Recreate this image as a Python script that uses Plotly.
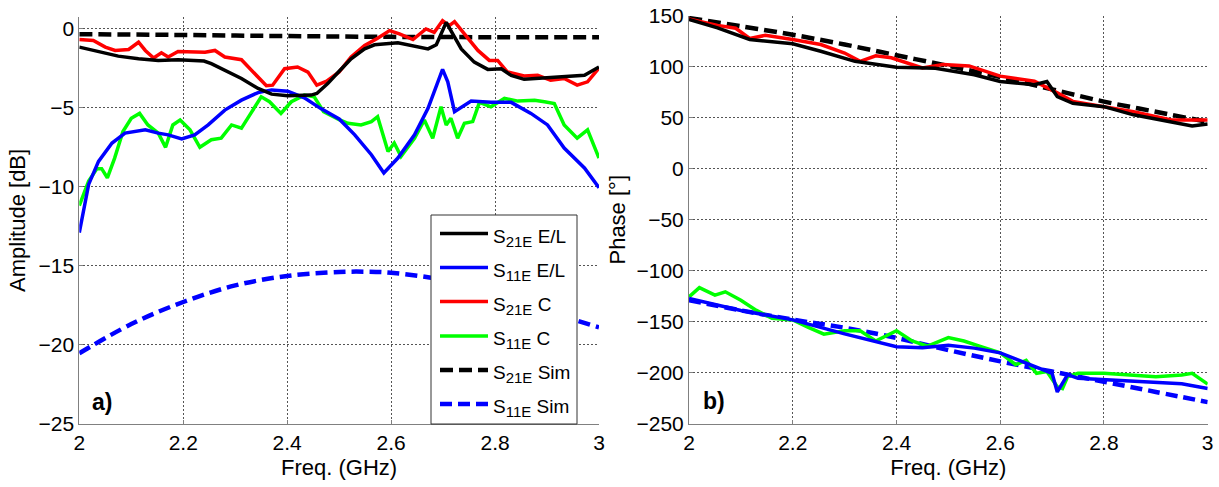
import plotly.graph_objects as go

# ---------------- data ----------------
# Left panel: amplitude [dB]
f_s21_el = [2.0, 2.035, 2.075, 2.114, 2.152, 2.19, 2.24, 2.254, 2.28, 2.312, 2.344, 2.37, 2.401,
            2.446, 2.457, 2.478, 2.5, 2.523, 2.549, 2.568, 2.613, 2.645, 2.671, 2.687, 2.699,
            2.706, 2.715, 2.735, 2.76, 2.786, 2.812, 2.831, 2.856, 2.882, 2.914, 2.946, 2.972, 3.0]
a_s21_el = [-1.15, -1.43, -1.72, -1.89, -1.99, -1.95, -2.03, -2.2, -2.62, -3.14, -3.77, -4.13, -4.23,
            -4.19, -4.09, -3.46, -2.68, -1.89, -1.26, -1.0, -0.88, -1.09, -1.26, -1.0, -0.1,
            0.42, -0.1, -1.26, -2.1, -2.56, -2.52, -2.94, -3.19, -3.14, -3.1, -3.04, -2.94, -2.41]

f_s21_c = [2.0, 2.027, 2.05, 2.069, 2.095, 2.114, 2.127, 2.143, 2.158, 2.171, 2.19, 2.242, 2.261,
           2.28, 2.312, 2.337, 2.36, 2.372, 2.395, 2.42, 2.44, 2.457, 2.476, 2.5, 2.523, 2.549,
           2.574, 2.597, 2.616, 2.642, 2.667, 2.683, 2.699, 2.712, 2.722, 2.741, 2.767, 2.789,
           2.805, 2.824, 2.856, 2.882, 2.907, 2.933, 2.958, 2.978, 3.0]
a_s21_c = [-0.67, -0.73, -1.15, -1.36, -1.3, -0.84, -1.36, -1.84, -1.51, -1.78, -1.43, -1.47, -1.36,
           -1.78, -1.95, -2.83, -3.6, -3.56, -2.52, -2.41, -2.73, -3.56, -3.31, -2.72, -1.78, -1.05,
           -0.59, -0.1, -0.31, -0.67, 0.0, -0.21, 0.52, 0.21, 0.46, -0.31, -1.36, -1.99,
           -1.99, -2.73, -2.98, -2.94, -3.25, -3.14, -3.56, -3.35, -2.47]

f_s11_el = [2.0, 2.018, 2.037, 2.063, 2.088, 2.127, 2.152, 2.171, 2.197, 2.222, 2.248, 2.28, 2.312,
            2.344, 2.37, 2.401, 2.433, 2.464, 2.5, 2.53, 2.562, 2.586, 2.613, 2.645, 2.671, 2.699,
            2.709, 2.722, 2.754, 2.792, 2.831, 2.869, 2.901, 2.933, 2.972, 3.0]
a_s11_el = [-12.9, -9.85, -8.39, -7.23, -6.6, -6.39, -6.6, -6.71, -6.96, -6.71, -6.08, -5.14, -4.51,
            -4.03, -3.86, -3.94, -4.36, -5.03, -5.7, -6.71, -7.97, -9.12, -8.18, -6.71, -5.03, -2.56,
            -3.35, -5.24, -4.57, -4.65, -4.65, -5.35, -6.08, -7.55, -8.81, -10.06]

f_s11_c = [2.0, 2.018, 2.034, 2.043, 2.054, 2.068, 2.084, 2.1, 2.116, 2.132, 2.152, 2.166, 2.18,
           2.194, 2.213, 2.232, 2.254, 2.273, 2.293, 2.312, 2.33, 2.35, 2.366, 2.388, 2.408, 2.433,
           2.452, 2.47, 2.5, 2.517, 2.542, 2.562, 2.574, 2.594, 2.606, 2.619, 2.645, 2.664, 2.68,
           2.696, 2.706, 2.715, 2.728, 2.741, 2.757, 2.77, 2.792, 2.818, 2.844, 2.876, 2.895,
           2.914, 2.933, 2.958, 2.978, 3.0]
a_s11_c = [-11.2, -9.64, -8.85, -8.85, -9.43, -8.18, -6.5, -5.66, -5.35, -6.08, -6.6, -7.5, -6.08,
           -5.77, -6.39, -7.5, -7.02, -6.92, -6.08, -6.29, -5.35, -4.3, -4.61, -5.35, -4.61, -4.19,
           -4.3, -5.24, -5.75, -5.98, -6.08, -5.87, -5.56, -7.76, -7.23, -8.07, -6.92, -5.77, -6.92,
           -4.93, -6.08, -5.66, -6.92, -5.98, -5.87, -4.65, -4.93, -4.4, -4.57, -4.51, -4.61,
           -4.72, -6.08, -6.92, -6.39, -8.18]

f_s21_sim = [2.0, 2.2, 2.4, 2.6, 2.8, 3.0]
a_s21_sim = [-0.33, -0.38, -0.45, -0.5, -0.52, -0.52]

f_s11_sim = [2.0, 2.1, 2.2, 2.3, 2.4, 2.5, 2.55, 2.6, 2.7, 2.8, 2.9, 3.0]
a_s11_sim = [-20.55, -18.7, -17.3, -16.25, -15.65, -15.4, -15.38, -15.45, -15.9, -16.8, -17.9, -18.9]

# Right panel: phase [deg]
pf_s21_el = [2.0, 2.055, 2.117, 2.2, 2.254, 2.32, 2.4, 2.475, 2.55, 2.6, 2.666, 2.69, 2.71, 2.74,
             2.8, 2.857, 2.93, 2.97, 3.0]
p_s21_el = [146.7, 138.4, 127, 122.7, 115.4, 105.5, 99.8, 98.6, 92.3, 85.7, 82.6, 85.7, 70.9, 64.3,
            61, 53, 46, 42, 44]

pf_s21_c = [2.0, 2.055, 2.09, 2.117, 2.147, 2.2, 2.254, 2.30, 2.33, 2.36, 2.39, 2.42, 2.45, 2.49,
            2.54, 2.6, 2.666, 2.71, 2.74, 2.8, 2.857, 2.93, 3.0]
p_s21_c = [147, 140.8, 138, 128, 131, 127, 122, 113.7, 105.5, 111, 109, 104, 99, 102.5,
           101, 91, 86, 74.5, 66.2, 61, 56, 48, 48]

pf_s21_sim = [2.0, 2.1, 2.2, 2.3, 2.4, 2.5, 2.6, 2.7, 2.8, 2.9, 3.0]
p_s21_sim = [148, 140, 131.6, 122, 111.5, 101, 90, 78, 66, 56, 46]

pf_s11_el = [2.0, 2.1, 2.2, 2.3, 2.4, 2.45, 2.5, 2.55, 2.6, 2.65, 2.7, 2.71, 2.73, 2.75, 2.8, 2.9,
             2.95, 3.0]
p_s11_el = [-127.3, -139, -148.3, -162, -174.7, -175.7, -173.3, -176, -180.7, -190.7, -200.7, -219,
            -202, -205.7, -207, -210, -211, -215.7]

pf_s11_c = [2.0, 2.02, 2.05, 2.07, 2.1, 2.13, 2.16, 2.2, 2.23, 2.26, 2.3, 2.33, 2.36, 2.4, 2.43,
            2.46, 2.5, 2.53, 2.56, 2.6, 2.63, 2.65, 2.67, 2.69, 2.71, 2.72, 2.73, 2.75, 2.8, 2.85,
            2.9, 2.95, 2.97, 3.0]
p_s11_c = [-125.7, -116.7, -124, -120.7, -129, -139, -146.7, -148.3, -155.7, -162.3, -159, -159,
           -169, -159, -169, -174, -165.7, -169, -174, -180.7, -192.3, -188, -200.7, -199, -214,
           -215.7, -204, -200.7, -200.7, -202.3, -204, -202.3, -200.7, -211.3]

pf_s11_sim = [2.0, 2.1, 2.2, 2.3, 2.4, 2.5, 2.6, 2.7, 2.8, 2.9, 3.0]
p_s11_sim = [-129, -139, -148, -156, -166, -178, -189, -199, -209, -219, -229]

amp_ticks = [0, -5, -10, -15, -20, -25]
phase_ticks = [150, 100, 50, 0, -50, -100, -150, -200, -250]
freq_ticks = [2, 2.2, 2.4, 2.6, 2.8, 3]
freq_labels = ["2", "2.2", "2.4", "2.6", "2.8", "3"]

SUB = '<sub><span style="font-size:15px">{}</span></sub>'
names = ["S" + SUB.format("21E") + " E/L", "S" + SUB.format("11E") + " E/L",
         "S" + SUB.format("21E") + " C", "S" + SUB.format("11E") + " C",
         "S" + SUB.format("21E") + " Sim", "S" + SUB.format("11E") + " Sim"]

# ---------------- figure ----------------
FONT = "Liberation Sans, Arial, sans-serif"
BLACK, BLUE, RED, GREEN = "#000000", "#0000ff", "#ff0000", "#00ff00"
SOLID_W, DASH_W = 3.5, 4.5
DASH_BLK = "13px,6px"
DASH_BLU = "12px,6px"

W, H = 1219, 487
def px(x):
    return x / W
def py(y):
    return (H - y) / H

fig = go.Figure()

def add(x, y, color, dash, width, name, axes, shape="linear"):
    fig.add_trace(go.Scatter(x=x, y=y, mode="lines", name=name, showlegend=False,
                             line=dict(color=color, width=width, dash=dash, shape=shape),
                             xaxis=axes[0], yaxis=axes[1]))

L = ("x", "y")
R = ("x2", "y2")
# left panel
add(f_s11_sim, a_s11_sim, BLUE, DASH_BLU, DASH_W, names[5], L, "spline")
add(f_s21_sim, a_s21_sim, BLACK, DASH_BLK, DASH_W, names[4], L, "spline")
add(f_s11_c, a_s11_c, GREEN, "solid", SOLID_W, names[3], L)
add(f_s11_el, a_s11_el, BLUE, "solid", SOLID_W, names[1], L)
add(f_s21_c, a_s21_c, RED, "solid", SOLID_W, names[2], L)
add(f_s21_el, a_s21_el, BLACK, "solid", SOLID_W, names[0], L)
# right panel
add(pf_s11_sim, p_s11_sim, BLUE, DASH_BLU, DASH_W, names[5], R, "spline")
add(pf_s21_sim, p_s21_sim, BLACK, DASH_BLK, DASH_W, names[4], R, "spline")
add(pf_s11_c, p_s11_c, GREEN, "solid", SOLID_W, names[3], R)
add(pf_s11_el, p_s11_el, BLUE, "solid", SOLID_W, names[1], R)
add(pf_s21_c, p_s21_c, RED, "solid", SOLID_W, names[2], R)
add(pf_s21_el, p_s21_el, BLACK, "solid", SOLID_W, names[0], R)

grid = dict(showgrid=True, gridcolor="#555555", griddash="2px,2px", gridwidth=1,
            showline=True, linecolor="#808080", linewidth=1, zeroline=False,
            ticks="inside", ticklen=4, tickcolor="#808080", automargin=False,
            tickfont=dict(family=FONT, size=21, color="#000"))

# ----- legend box drawn in paper coordinates (matches the reference legend geometry)
leg_style = [(BLACK, "solid", SOLID_W), (BLUE, "solid", SOLID_W), (RED, "solid", SOLID_W),
             (GREEN, "solid", SOLID_W), (BLACK, DASH_BLK, DASH_W), (BLUE, DASH_BLU, DASH_W)]
leg_rows = [233.5, 267.5, 301.5, 336, 370, 404]
shapes = [dict(type="rect", xref="paper", yref="paper", x0=px(431), x1=px(577),
               y0=py(424), y1=py(215), line=dict(color="#333", width=1), fillcolor="white",
               layer="above")]
annotations = []
for nm, (c, d, w), ry in zip(names, leg_style, leg_rows):
    shapes.append(dict(type="line", xref="paper", yref="paper", x0=px(440), x1=px(488),
                       y0=py(ry), y1=py(ry), line=dict(color=c, width=w, dash=d), layer="above"))
    annotations.append(dict(text=nm, x=px(491), y=py(ry + 4), xref="paper", yref="paper",
                            xanchor="left", yanchor="middle", showarrow=False,
                            font=dict(family=FONT, size=19, color="#000")))

annotations += [
    dict(text="<b>a)</b>", x=px(102), y=py(402), xref="paper", yref="paper",
         xanchor="center", yanchor="middle",
         showarrow=False, font=dict(family=FONT, size=23, color="#000")),
    dict(text="<b>b)</b>", x=px(714), y=py(401), xref="paper", yref="paper",
         xanchor="center", yanchor="middle",
         showarrow=False, font=dict(family=FONT, size=23, color="#000")),
]

fig.update_layout(
    width=W, height=H,
    margin=dict(l=0, r=0, t=0, b=0),
    paper_bgcolor="white", plot_bgcolor="white",
    font=dict(family=FONT, size=21, color="#000"),
    showlegend=False,
    xaxis=dict(domain=[px(79.3), px(599)], range=[2, 3], tickvals=freq_ticks,
               ticktext=freq_labels, anchor="y",
               title=dict(text="Freq. (GHz)", font=dict(size=22), standoff=6), **grid),
    yaxis=dict(domain=[py(423.5), py(17.3)], range=[-25, 0.74], tickvals=amp_ticks, anchor="x",
               title=dict(text="Amplitude [dB]", font=dict(size=22), standoff=6), **grid),
    xaxis2=dict(domain=[px(689), px(1207.7)], range=[2, 3], tickvals=freq_ticks,
                ticktext=freq_labels, anchor="y2",
                title=dict(text="Freq. (GHz)", font=dict(size=22), standoff=6), **grid),
    yaxis2=dict(domain=[py(423.5), py(16)], range=[-250, 150], tickvals=phase_ticks, anchor="x2",
                title=dict(text="Phase [°]", font=dict(size=22), standoff=4), **grid),
    shapes=shapes,
    annotations=annotations,
)

# remove the default 8px page margin so the figure sits exactly in the window
fig.write_html("out.html", config={"displayModeBar": False},
               post_script="document.body.style.margin='0';document.body.style.overflow='hidden';")
